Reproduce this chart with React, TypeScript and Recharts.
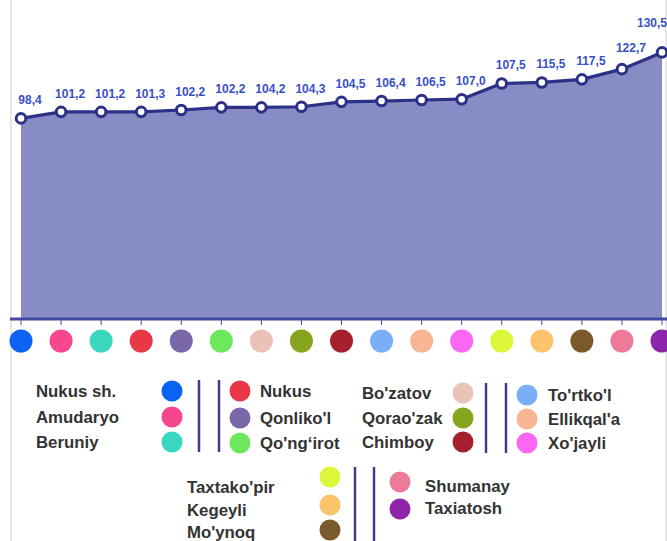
import React from 'react';
import { AreaChart, Area, XAxis, YAxis, LabelList } from 'recharts';

const categories = [
  "Nukus sh.", "Amudaryo", "Beruniy", "Nukus", "Qonliko'l", "Qo'ng‘irot",
  "Bo'zatov", "Qorao'zak", "Chimboy", "To'rtko'l", "Ellikqal'a", "Xo'jayli",
  "Taxtako'pir", "Kegeyli", "Mo'ynoq", "Shumanay", "Taxiatosh",
];

// plotted heights
const values = [98.2, 101.4, 101.4, 101.4, 102.3, 103.6, 103.6, 103.9, 106.3, 106.7, 107.2, 107.6, 115.3, 115.8, 117.3, 122.3, 130.5];

// value labels as printed
const valueLabels = ["98,4", "101,2", "101,2", "101,3", "102,2", "102,2", "104,2", "104,3", "104,5", "106,4", "106,5", "107,0", "107,5", "115,5", "117,5", "122,7", "130,5"];

const colors = [
  "#0b63f3", "#f5468f", "#3ad6be", "#e83848", "#7a67a8", "#6de85c",
  "#ebc2b8", "#86a41e", "#a61f2c", "#7aaef6", "#f8b593", "#fb66f2",
  "#dcf73a", "#fbc36c", "#7a5a2a", "#ee7a9a", "#8e24aa",
];

const data = categories.map((name, i) => ({ name, value: values[i], label: valueLabels[i] }));

const NAVY = "#2b3187";
const AXIS = "#3f4aa0";
const LABEL = "#3a50c4";
const TEXT = "#333333";
const FONT = "'Liberation Sans', Arial, sans-serif";

const ColorTick = (props: any) => {
  const { x, y, index } = props;
  return <circle cx={x} cy={y + 14} r={11.5} fill={colors[index]} />;
};

const ValueLabel = (props: any) => {
  const { x, y, index, value } = props;
  const last = index === data.length - 1;
  const dx = last ? -10 : 9;
  const dy = last ? -25 : index === data.length - 2 ? -17 : -14;
  return (
    <text x={x + dx} y={y + dy} textAnchor="middle" fontSize={12} fontFamily={FONT} fill={LABEL} fontWeight="bold">
      {value}
    </text>
  );
};

// legend layout: groups of category indices
type Group = { items: number[]; textX: number; circleX: number; rows: number[]; circleRows?: number[] };
const legendGroups: Group[] = [
  { items: [0, 1, 2], textX: 36, circleX: 172, rows: [391, 417, 442] },
  { items: [3, 4, 5], textX: 260, circleX: 240, rows: [391, 418, 443] },
  { items: [6, 7, 8], textX: 362, circleX: 463, rows: [393, 418, 442] },
  { items: [9, 10, 11], textX: 548, circleX: 527, rows: [395, 419, 443] },
  { items: [12, 13, 14], textX: 187, circleX: 330, rows: [487, 510, 532], circleRows: [477, 505, 530] },
  { items: [15, 16], textX: 425, circleX: 400, rows: [486, 508], circleRows: [482, 509] },
];
const dividers = [
  { x: 199, y1: 380, y2: 452 }, { x: 219, y1: 380, y2: 452 },
  { x: 486, y1: 383, y2: 453 }, { x: 506, y1: 383, y2: 453 },
  { x: 355, y1: 467, y2: 541 }, { x: 374, y1: 467, y2: 541 },
];

export default function App() {
  return (
    <div style={{ position: 'absolute', left: 0, top: 0, width: 667, height: 541, background: '#fff', overflow: 'hidden' }}>
      <div style={{ position: 'absolute', left: 10, top: 0, width: 2, height: 541, background: '#e6e6e6' }} />
      <div style={{ position: 'absolute', left: 665, top: 0, width: 2, height: 541, background: '#e6e6e6' }} />
      <div style={{ position: 'absolute', left: 0, top: 0 }}>
        <AreaChart width={667} height={360} data={data} margin={{ top: 33, right: 0, bottom: 0, left: 10 }}>
          <YAxis hide domain={[0, 140]} />
          <XAxis
            dataKey="name"
            interval={0}
            height={41}
            padding={{ left: 11, right: 5 }}
            axisLine={{ stroke: AXIS, strokeWidth: 3 }}
            tickLine={{ stroke: AXIS, strokeWidth: 1 }}
            tickSize={6}
            tickMargin={2}
            tick={<ColorTick />}
          />
          <Area
            type="linear"
            dataKey="value"
            stroke={NAVY}
            strokeWidth={3.2}
            fill="#888cc4"
            fillOpacity={1}
            dot={{ r: 4.8, fill: '#fff', stroke: NAVY, strokeWidth: 3 }}
            activeDot={false}
            isAnimationActive={false}
          >
            <LabelList dataKey="label" content={<ValueLabel />} />
          </Area>
        </AreaChart>
      </div>
      <svg width={667} height={541} style={{ position: 'absolute', left: 0, top: 0, pointerEvents: 'none' }}>
        {dividers.map((d, i) => (
          <line key={i} x1={d.x} x2={d.x} y1={d.y1} y2={d.y2} stroke="#3a3f8a" strokeWidth={2.5} />
        ))}
        {legendGroups.map((g, gi) =>
          g.items.map((idx, r) => (
            <g key={`${gi}-${r}`}>
              <circle cx={g.circleX} cy={(g.circleRows || g.rows)[r]} r={10.5} fill={colors[idx]} />
              <text x={g.textX} y={g.rows[r] + 6} fontSize={16.8} fontWeight="bold" fontFamily={FONT} fill={TEXT}>
                {categories[idx]}
              </text>
            </g>
          ))
        )}
      </svg>
    </div>
  );
}
